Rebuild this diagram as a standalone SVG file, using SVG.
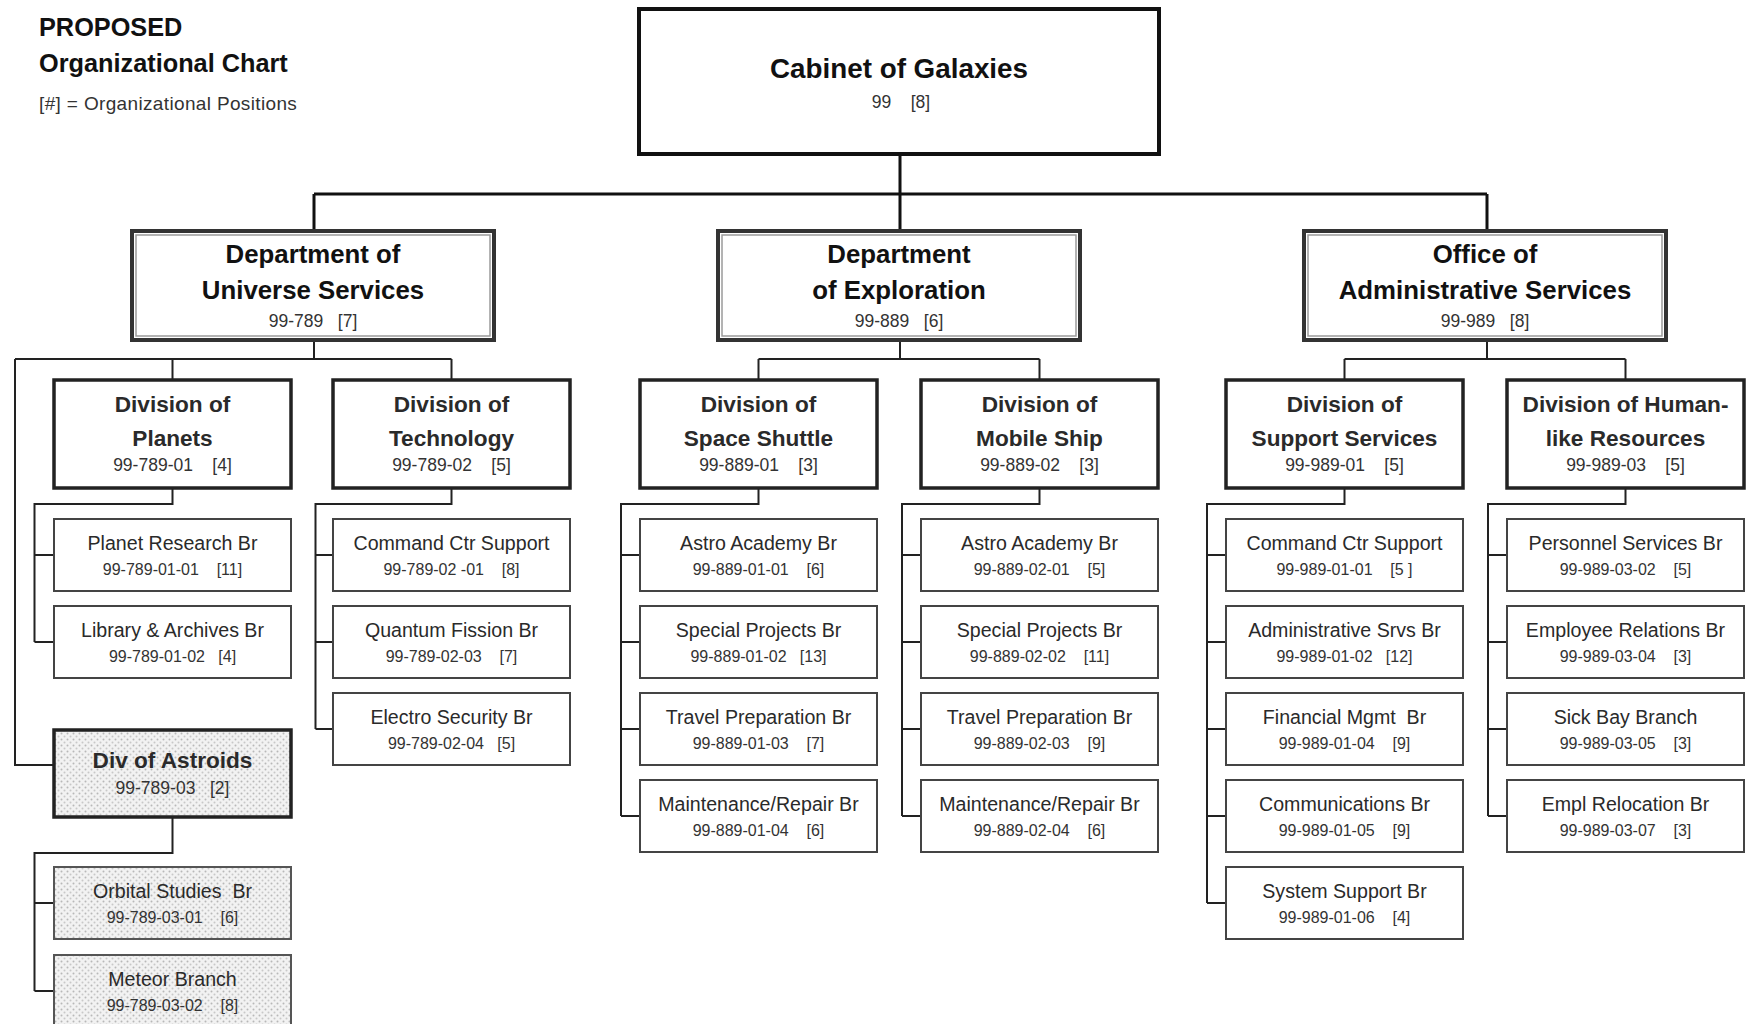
<svg xmlns="http://www.w3.org/2000/svg" width="1748" height="1024" viewBox="0 0 1748 1024">
<defs>
<pattern id="dots" width="6" height="6" patternUnits="userSpaceOnUse"><rect width="6" height="6" fill="#f2f2f2"/><circle cx="1.5" cy="1.5" r="1" fill="#b8b8b8"/><circle cx="4.5" cy="4.5" r="1" fill="#c8c8c8"/></pattern>
<style>
text{font-family:"Liberation Sans",Arial,sans-serif;text-anchor:middle;fill:#222}
.ttl{text-anchor:start;font-weight:bold;font-size:25.3px;fill:#111}
.leg{text-anchor:start;font-size:19px;letter-spacing:0.35px;fill:#333}
.cab{fill:#fff;stroke:#111;stroke-width:4}
.dout{fill:#fff;stroke:#333;stroke-width:4}
.din{fill:none;stroke:#9a9a9a;stroke-width:1.5}
.dv{fill:#fff;stroke:#222;stroke-width:3.5}
.br{fill:#fff;stroke:#444;stroke-width:2}
.ast{fill:url(#dots);stroke:#222;stroke-width:3.5}
.abr{fill:url(#dots);stroke:#555;stroke-width:2}
.cn{fill:none;stroke:#222;stroke-width:2}
.cm{fill:none;stroke:#111;stroke-width:3}
.t1{font-size:27.8px;font-weight:bold;fill:#111}
.t2{font-size:25.8px;font-weight:bold;fill:#111}
.t3{font-size:22.6px;font-weight:bold;fill:#2a2a2a}
.t4{font-size:19.6px;fill:#2a2a2a}
.c{font-size:17.5px;fill:#333}
.cb{font-size:16px;fill:#333}
</style>
</defs>
<rect width="1748" height="1024" fill="#fff"/>
<g id="legend">
<text class="ttl" x="39" y="36">PROPOSED</text>
<text class="ttl" x="39" y="72">Organizational Chart</text>
<text class="leg" x="39" y="110">[#] = Organizational Positions</text>
</g>
<g id="connectors">
<path class="cm" d="M900,155V194M314,194H1487M314,194V231M900,194V231M1487,194V231"/>
<path class="cn" d="M314,340V359M15,359H451.5M172.5,359V380M451.5,359V380M15,359V765H54"/>
<path class="cn" d="M900,340V359M758.5,359H1039.5M758.5,359V380M1039.5,359V380"/>
<path class="cn" d="M1487,340V359M1344.5,359H1625.5M1344.5,359V380M1625.5,359V380"/>
<path class="cn" d="M172.5,488V504H34.5V642M34.5,555H54M34.5,642H54"/>
<path class="cn" d="M451.5,488V504H315.5V729M315.5,555H333M315.5,642H333M315.5,729H333"/>
<path class="cn" d="M758.5,488V504H621V816M621,555H640M621,642H640M621,729H640M621,816H640"/>
<path class="cn" d="M1039.5,488V504H902V816M902,555H921M902,642H921M902,729H921M902,816H921"/>
<path class="cn" d="M1344.5,488V504H1207V903M1207,555H1226M1207,642H1226M1207,729H1226M1207,816H1226M1207,903H1226"/>
<path class="cn" d="M1625.5,488V504H1488V816M1488,555H1507M1488,642H1507M1488,729H1507M1488,816H1507"/>
<path class="cn" d="M172.5,817V853H34.5V991M34.5,903H54M34.5,991H54"/>
</g>
<g id="cabinet">
<rect class="cab" x="639" y="9" width="520" height="145"/>
<text class="t1" x="899" y="78">Cabinet of Galaxies</text>
<text class="c" x="901" y="108">99&#160;&#160;&#160;&#160;[8]</text>
</g>
<g id="dept-universe">
<rect class="dout" x="132" y="231" width="362" height="109"/>
<rect class="din" x="136" y="235" width="354" height="101"/>
<text class="t2" x="313" y="263">Department of</text>
<text class="t2" x="313" y="299">Universe Services</text>
<text class="c" x="313" y="327">99-789&#160;&#160;&#160;[7]</text>
</g>
<g id="dept-exploration">
<rect class="dout" x="718" y="231" width="362" height="109"/>
<rect class="din" x="722" y="235" width="354" height="101"/>
<text class="t2" x="899" y="263">Department</text>
<text class="t2" x="899" y="299">of Exploration</text>
<text class="c" x="899" y="327">99-889&#160;&#160;&#160;[6]</text>
</g>
<g id="office-admin">
<rect class="dout" x="1304" y="231" width="362" height="109"/>
<rect class="din" x="1308" y="235" width="354" height="101"/>
<text class="t2" x="1485" y="263">Office of</text>
<text class="t2" x="1485" y="299">Administrative Services</text>
<text class="c" x="1485" y="327">99-989&#160;&#160;&#160;[8]</text>
</g>
<g id="div-planets">
<rect class="dv" x="54" y="380" width="237" height="108"/>
<text class="t3" x="172.5" y="412">Division of</text>
<text class="t3" x="172.5" y="446">Planets</text>
<text class="c" x="172.5" y="471">99-789-01&#160;&#160;&#160;&#160;[4]</text>
</g>
<g id="div-technology">
<rect class="dv" x="333" y="380" width="237" height="108"/>
<text class="t3" x="451.5" y="412">Division of</text>
<text class="t3" x="451.5" y="446">Technology</text>
<text class="c" x="451.5" y="471">99-789-02&#160;&#160;&#160;&#160;[5]</text>
</g>
<g id="div-shuttle">
<rect class="dv" x="640" y="380" width="237" height="108"/>
<text class="t3" x="758.5" y="412">Division of</text>
<text class="t3" x="758.5" y="446">Space Shuttle</text>
<text class="c" x="758.5" y="471">99-889-01&#160;&#160;&#160;&#160;[3]</text>
</g>
<g id="div-mobile">
<rect class="dv" x="921" y="380" width="237" height="108"/>
<text class="t3" x="1039.5" y="412">Division of</text>
<text class="t3" x="1039.5" y="446">Mobile Ship</text>
<text class="c" x="1039.5" y="471">99-889-02&#160;&#160;&#160;&#160;[3]</text>
</g>
<g id="div-support">
<rect class="dv" x="1226" y="380" width="237" height="108"/>
<text class="t3" x="1344.5" y="412">Division of</text>
<text class="t3" x="1344.5" y="446">Support Services</text>
<text class="c" x="1344.5" y="471">99-989-01&#160;&#160;&#160;&#160;[5]</text>
</g>
<g id="div-human">
<rect class="dv" x="1507" y="380" width="237" height="108"/>
<text class="t3" x="1625.5" y="412">Division of Human-</text>
<text class="t3" x="1625.5" y="446">like Resources</text>
<text class="c" x="1625.5" y="471">99-989-03&#160;&#160;&#160;&#160;[5]</text>
</g>
<g id="div-astroids">
<rect class="ast" x="54" y="730" width="237" height="87"/>
<text class="t3" x="172.5" y="768">Div of Astroids</text>
<text class="c" x="172.5" y="794">99-789-03&#160;&#160;&#160;[2]</text>
</g>
<g id="br-planet-research"><rect class="br" x="54" y="519" width="237" height="72"/><text class="t4" x="172.5" y="550">Planet Research Br</text><text class="cb" x="172.5" y="575">99-789-01-01&#160;&#160;&#160;&#160;[11]</text></g>
<g id="br-library"><rect class="br" x="54" y="606" width="237" height="72"/><text class="t4" x="172.5" y="637">Library &amp; Archives Br</text><text class="cb" x="172.5" y="662">99-789-01-02&#160;&#160;&#160;[4]</text></g>
<g id="br-orbital"><rect class="abr" x="54" y="867" width="237" height="72"/><text class="t4" x="172.5" y="898">Orbital Studies&#160; Br</text><text class="cb" x="172.5" y="923">99-789-03-01&#160;&#160;&#160;&#160;[6]</text></g>
<g id="br-meteor"><rect class="abr" x="54" y="955" width="237" height="72"/><text class="t4" x="172.5" y="986">Meteor Branch</text><text class="cb" x="172.5" y="1011">99-789-03-02&#160;&#160;&#160;&#160;[8]</text></g>
<g id="br-tech-command"><rect class="br" x="333" y="519" width="237" height="72"/><text class="t4" x="451.5" y="550">Command Ctr Support</text><text class="cb" x="451.5" y="575">99-789-02 -01&#160;&#160;&#160;&#160;[8]</text></g>
<g id="br-quantum"><rect class="br" x="333" y="606" width="237" height="72"/><text class="t4" x="451.5" y="637">Quantum Fission Br</text><text class="cb" x="451.5" y="662">99-789-02-03&#160;&#160;&#160;&#160;[7]</text></g>
<g id="br-electro"><rect class="br" x="333" y="693" width="237" height="72"/><text class="t4" x="451.5" y="724">Electro Security Br</text><text class="cb" x="451.5" y="749">99-789-02-04&#160;&#160;&#160;[5]</text></g>
<g id="br-astro1"><rect class="br" x="640" y="519" width="237" height="72"/><text class="t4" x="758.5" y="550">Astro Academy Br</text><text class="cb" x="758.5" y="575">99-889-01-01&#160;&#160;&#160;&#160;[6]</text></g>
<g id="br-special1"><rect class="br" x="640" y="606" width="237" height="72"/><text class="t4" x="758.5" y="637">Special Projects Br</text><text class="cb" x="758.5" y="662">99-889-01-02&#160;&#160;&#160;[13]</text></g>
<g id="br-travel1"><rect class="br" x="640" y="693" width="237" height="72"/><text class="t4" x="758.5" y="724">Travel Preparation Br</text><text class="cb" x="758.5" y="749">99-889-01-03&#160;&#160;&#160;&#160;[7]</text></g>
<g id="br-maint1"><rect class="br" x="640" y="780" width="237" height="72"/><text class="t4" x="758.5" y="811">Maintenance/Repair Br</text><text class="cb" x="758.5" y="836">99-889-01-04&#160;&#160;&#160;&#160;[6]</text></g>
<g id="br-astro2"><rect class="br" x="921" y="519" width="237" height="72"/><text class="t4" x="1039.5" y="550">Astro Academy Br</text><text class="cb" x="1039.5" y="575">99-889-02-01&#160;&#160;&#160;&#160;[5]</text></g>
<g id="br-special2"><rect class="br" x="921" y="606" width="237" height="72"/><text class="t4" x="1039.5" y="637">Special Projects Br</text><text class="cb" x="1039.5" y="662">99-889-02-02&#160;&#160;&#160;&#160;[11]</text></g>
<g id="br-travel2"><rect class="br" x="921" y="693" width="237" height="72"/><text class="t4" x="1039.5" y="724">Travel Preparation Br</text><text class="cb" x="1039.5" y="749">99-889-02-03&#160;&#160;&#160;&#160;[9]</text></g>
<g id="br-maint2"><rect class="br" x="921" y="780" width="237" height="72"/><text class="t4" x="1039.5" y="811">Maintenance/Repair Br</text><text class="cb" x="1039.5" y="836">99-889-02-04&#160;&#160;&#160;&#160;[6]</text></g>
<g id="br-ss-command"><rect class="br" x="1226" y="519" width="237" height="72"/><text class="t4" x="1344.5" y="550">Command Ctr Support</text><text class="cb" x="1344.5" y="575">99-989-01-01&#160;&#160;&#160;&#160;[5 ]</text></g>
<g id="br-adminsrvs"><rect class="br" x="1226" y="606" width="237" height="72"/><text class="t4" x="1344.5" y="637">Administrative Srvs Br</text><text class="cb" x="1344.5" y="662">99-989-01-02&#160;&#160;&#160;[12]</text></g>
<g id="br-financial"><rect class="br" x="1226" y="693" width="237" height="72"/><text class="t4" x="1344.5" y="724">Financial Mgmt&#160; Br</text><text class="cb" x="1344.5" y="749">99-989-01-04&#160;&#160;&#160;&#160;[9]</text></g>
<g id="br-comms"><rect class="br" x="1226" y="780" width="237" height="72"/><text class="t4" x="1344.5" y="811">Communications Br</text><text class="cb" x="1344.5" y="836">99-989-01-05&#160;&#160;&#160;&#160;[9]</text></g>
<g id="br-system"><rect class="br" x="1226" y="867" width="237" height="72"/><text class="t4" x="1344.5" y="898">System Support Br</text><text class="cb" x="1344.5" y="923">99-989-01-06&#160;&#160;&#160;&#160;[4]</text></g>
<g id="br-personnel"><rect class="br" x="1507" y="519" width="237" height="72"/><text class="t4" x="1625.5" y="550">Personnel Services Br</text><text class="cb" x="1625.5" y="575">99-989-03-02&#160;&#160;&#160;&#160;[5]</text></g>
<g id="br-employee"><rect class="br" x="1507" y="606" width="237" height="72"/><text class="t4" x="1625.5" y="637">Employee Relations Br</text><text class="cb" x="1625.5" y="662">99-989-03-04&#160;&#160;&#160;&#160;[3]</text></g>
<g id="br-sickbay"><rect class="br" x="1507" y="693" width="237" height="72"/><text class="t4" x="1625.5" y="724">Sick Bay Branch</text><text class="cb" x="1625.5" y="749">99-989-03-05&#160;&#160;&#160;&#160;[3]</text></g>
<g id="br-relocation"><rect class="br" x="1507" y="780" width="237" height="72"/><text class="t4" x="1625.5" y="811">Empl Relocation Br</text><text class="cb" x="1625.5" y="836">99-989-03-07&#160;&#160;&#160;&#160;[3]</text></g>
</svg>
